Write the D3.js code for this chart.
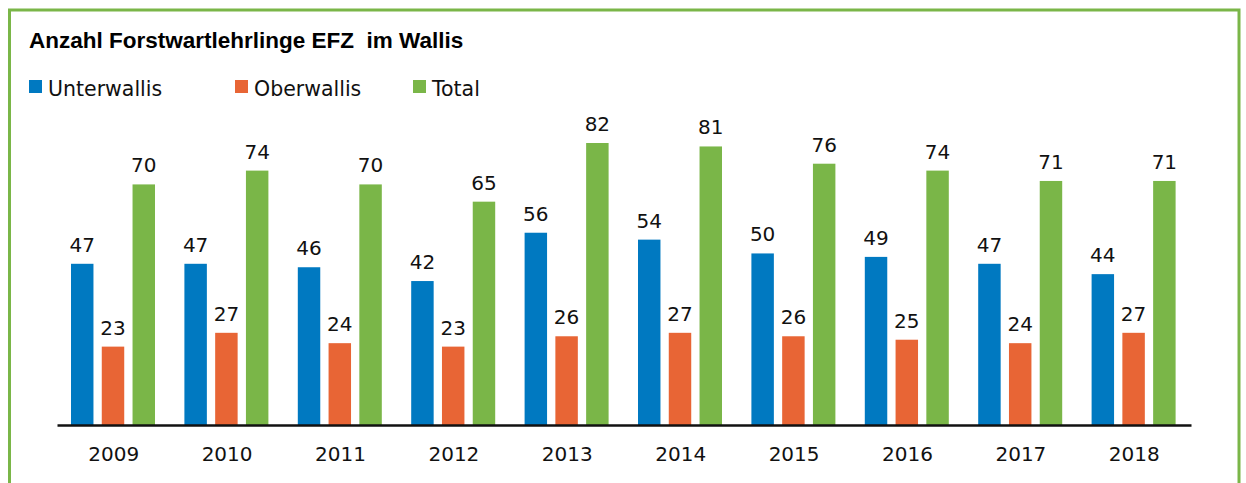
<!DOCTYPE html>
<html lang="de">
<head>
<meta charset="utf-8">
<script src="https://cdn.jsdelivr.net/npm/d3@7"></script>
<style>
  body { margin: 0; background: #fff; }
  svg { display: block; }
</style>
</head>
<body>
<div id="chart"></div>
<script>
// ---- Daten ----
const years = ["2009", "2010", "2011", "2012", "2013", "2014", "2015", "2016", "2017", "2018"];
const unterwallis = [47, 47, 46, 42, 56, 54, 50, 49, 47, 44];
const oberwallis = [23, 27, 24, 23, 26, 27, 26, 25, 24, 27];
const total = [70, 74, 70, 65, 82, 81, 76, 74, 71, 71];

const seriesNames = ["Unterwallis", "Oberwallis", "Total"];
const seriesColors = ["#0079c1", "#e86535", "#7ab648"];

// ---- Layout ----
const width = 1246;
const height = 483;
const borderColor = "#7ab648";
const labelFont = "'DejaVu Sans', sans-serif";

const svg = d3.select("#chart").append("svg")
  .attr("width", width)
  .attr("height", height);

// Rahmen (unten abgeschnitten)
svg.append("rect")
  .attr("x", 9.5)
  .attr("y", 10)
  .attr("width", 1229.5)
  .attr("height", 520)
  .attr("fill", "none")
  .attr("stroke", borderColor)
  .attr("stroke-width", 3);

// Titel
svg.append("text")
  .attr("x", 29)
  .attr("y", 48)
  .style("white-space", "pre")
  .attr("font-family", "'Liberation Sans', Arial, sans-serif")
  .attr("font-weight", "bold")
  .attr("font-size", 22.5)
  .attr("fill", "#000")
  .text("Anzahl Forstwartlehrlinge EFZ  im Wallis");

// Legende
const legendX = [29, 235, 413];
const legend = svg.append("g")
  .selectAll("g")
  .data(seriesNames)
  .join("g")
    .attr("transform", (d, i) => `translate(${legendX[i]},80)`);

legend.append("rect")
  .attr("width", 13)
  .attr("height", 13)
  .attr("fill", (d, i) => seriesColors[i]);

legend.append("text")
  .attr("x", 19)
  .attr("y", 16)
  .attr("font-family", labelFont)
  .attr("font-size", 20.5)
  .attr("fill", "#111")
  .text(d => d);

// ---- Skalen ----
const x = d3.scaleBand()
  .domain(years)
  .range([57, 1191])
  .padding(0);

const xInner = d3.scaleBand()
  .domain(seriesNames)
  .range([14, 98])
  .paddingInner(0.27)
  .paddingOuter(0);

const y = d3.scaleLinear()
  .domain([0, 82])
  .range([426, 143]);

// Datenzeilen pro Jahr
const rows = years.map((year, i) => ({
  year: year,
  values: [unterwallis[i], oberwallis[i], total[i]]
}));

const groups = svg.append("g")
  .selectAll("g")
  .data(rows)
  .join("g")
    .attr("transform", d => `translate(${x(d.year)},0)`);

// Balken
groups.selectAll("rect")
  .data(d => d.values.map((v, i) => ({ name: seriesNames[i], value: v, idx: i })))
  .join("rect")
    .attr("x", d => xInner(d.name))
    .attr("y", d => y(d.value))
    .attr("width", xInner.bandwidth())
    .attr("height", d => y(0) - y(d.value))
    .attr("fill", d => seriesColors[d.idx]);

// Werte über den Balken
groups.selectAll("text")
  .data(d => d.values.map((v, i) => ({ name: seriesNames[i], value: v })))
  .join("text")
    .attr("x", d => xInner(d.name) + xInner.bandwidth() / 2)
    .attr("y", d => y(d.value) - 12)
    .attr("text-anchor", "middle")
    .attr("font-family", labelFont)
    .attr("font-size", 20)
    .attr("fill", "#111")
    .text(d => d.value);

// X-Achse
const xAxis = svg.append("g")
  .attr("transform", "translate(0,425)")
  .call(d3.axisBottom(x).tickSize(0).tickPadding(22));

xAxis.select(".domain")
  .attr("stroke", "#111")
  .attr("stroke-width", 2.5);

xAxis.selectAll(".tick text")
  .attr("font-family", labelFont)
  .attr("font-size", 20)
  .attr("fill", "#111")
  .attr("dy", "0.71em");
</script>
</body>
</html>
